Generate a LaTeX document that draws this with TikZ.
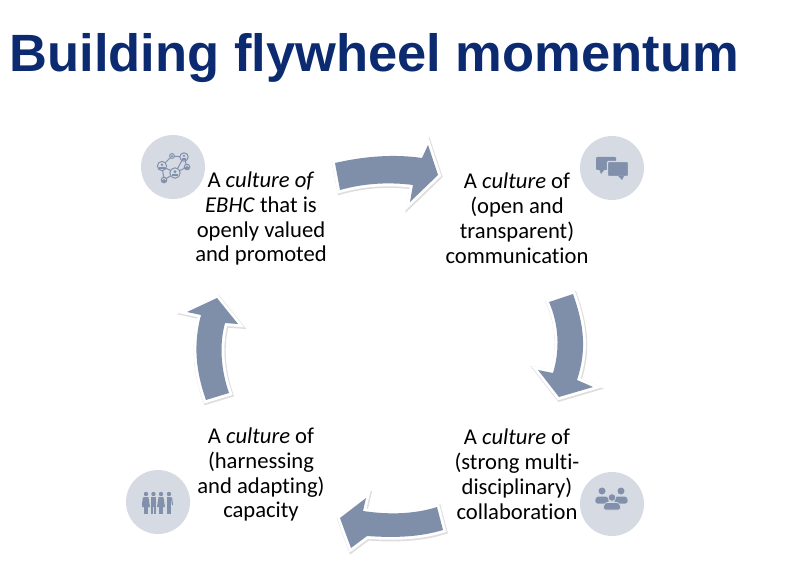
\documentclass[tikz,border=0pt]{standalone}
\usepackage{fontspec}
\setmainfont{Carlito}[Ligatures=CommonOff]
\newfontfamily\titlefont{Liberation Sans}
\usepackage{xcolor}
\definecolor{titleblue}{HTML}{0B2A70}
\definecolor{arrowblue}{HTML}{7F8FAA}
\definecolor{discgray}{HTML}{D6DAE3}
\definecolor{iconblue}{HTML}{8191AC}
\tikzset{
  flowarrow/.style={fill=arrowblue,line join=miter,
    preaction={draw=black,draw opacity=0.13,line width=2.1mm,transform canvas={xshift=0.2mm,yshift=-0.3mm}},
    preaction={draw=white,line width=1.7mm}},
  culturetext/.style={align=center,font=\fontsize{19.3pt}{21.3pt}\selectfont,text=black,inner sep=0pt},
  icondisc/.style={circle,fill=discgray,minimum size=1.92cm,inner sep=0pt},
  iconline/.style={draw=iconblue,line width=0.4mm}
}
\begin{document}
\begin{tikzpicture}[x=0.03cm,y=-0.03cm]
  \useasboundingbox (0,0) rectangle (786,568);
  % title
  \node[anchor=base west,inner sep=0pt,text=titleblue,font=\titlefont\bfseries\fontsize{44.8pt}{50pt}\selectfont]
    (title) at (9.5,72) {Building flywheel momentum};
  % discs behind the icons
  \node[icondisc] (discnet) at (173,167) {};
  \node[icondisc] (discchat) at (612,168) {};
  \node[icondisc] (discteam) at (612,504) {};
  \node[icondisc] (discgroup) at (158,502) {};
  % four curved arrows, clockwise from the top
  \path[flowarrow] (335,163) .. controls (365,156) and (395,154) .. (422,158) -- (428,145) -- (438,175)
     -- (410,202) -- (413,185) .. controls (390,182) and (365,183) .. (340,190) -- cycle;
  \path[flowarrow] (573,294) .. controls (584,325) and (587,350) .. (577,380) -- (593,387) -- (559,397)
     -- (538,370) -- (553,373) .. controls (560,350) and (559,325) .. (549,302) -- cycle;
  \path[flowarrow] (443,530) .. controls (420,537) and (395,538) .. (367,536) -- (351,548) -- (340,518)
     -- (366,498) -- (363,511) .. controls (390,515) and (415,514) .. (437,507) -- cycle;
  \path[flowarrow] (206,400) .. controls (196,372) and (193,345) .. (201,315) -- (187,312) -- (217,298)
     -- (238,324) -- (225,323) .. controls (219,345) and (221,370) .. (229,393) -- cycle;
  % the four texts
  \node[culturetext] (valued) at (261,218.5) {A \textit{culture of}\\\textit{EBHC} that is\\openly valued\\and promoted};
  \node[culturetext] (communication) at (517,218.5) {A \textit{culture} of\\(open and\\transparent)\\communication};
  \node[culturetext] (collaboration) at (517,474.5) {A \textit{culture} of\\(strong multi-\\disciplinary)\\collaboration};
  \node[culturetext] (capacity) at (261,474.5) {A \textit{culture} of\\(harnessing\\and adapting)\\capacity};
  % network icon
  \draw[iconline,line width=0.3mm] (162,166) -- (172,156) -- (184,157) -- (175,173) -- (162,166) -- (164,180) -- (175,173)
     (184,157) -- (187,167) -- (175,173);
  \foreach \x/\y/\r in {162/166/4.6,172/156/2.4,184/157/4.2,175/173/5.2,187/167/2.8,164/180/2.8}{
    \filldraw[fill=discgray,draw=iconblue,line width=0.3mm] (\x,\y) circle (\r);
    \fill[iconblue] (\x,\y-0.25*\r) circle (0.3*\r);
    \fill[iconblue] (\x-0.55*\r,\y+0.6*\r) rectangle (\x+0.55*\r,\y+0.15*\r);
  }
  % chat icon
  \fill[iconblue,rounded corners=0.3mm] (596,157) rectangle (616,170);
  \fill[iconblue] (599,169) -- (601,174) -- (605,169) -- cycle;
  \filldraw[iconline,fill=iconblue,draw=discgray,rounded corners=0.3mm] (607.5,161.5) rectangle (628.5,176.5);
  \fill[iconblue] (618,176) -- (622,180) -- (624,176) -- cycle;
  % team icon
  \foreach \x in {602,621}{
    \fill[iconblue] (\x,491) circle (3.5);
    \fill[iconblue,rounded corners=0.8mm] (\x-7,503.5) -- (\x-6,496.5) -- (\x+6,496.5) -- (\x+7,503.5) -- cycle;
  }
  \filldraw[fill=iconblue,draw=discgray,line width=0.2mm] (612,497.5) circle (3.8);
  \filldraw[fill=iconblue,draw=discgray,line width=0.2mm,rounded corners=0.8mm] (603,510) -- (604.5,502.5) -- (619.5,502.5) -- (621,510) -- cycle;
  % group icon, skirts on the first and third figure
  \foreach \x/\w in {146/4,153.5/2.4,161/4,169/2.4}{
    \fill[iconblue] (\x,494) circle (2.2);
    \fill[iconblue] (\x-2.4,497) -- (\x+2.4,497) -- (\x+\w,507) -- (\x-\w,507) -- cycle;
    \fill[iconblue] (\x-2.1,506) rectangle (\x-0.3,514);
    \fill[iconblue] (\x+0.3,506) rectangle (\x+2.1,514);
  }
  \draw[iconline,line width=0.35mm] (143.5,497.5) -- (142.5,505) (171.5,497.5) -- (172.5,505);
\end{tikzpicture}
\end{document}
